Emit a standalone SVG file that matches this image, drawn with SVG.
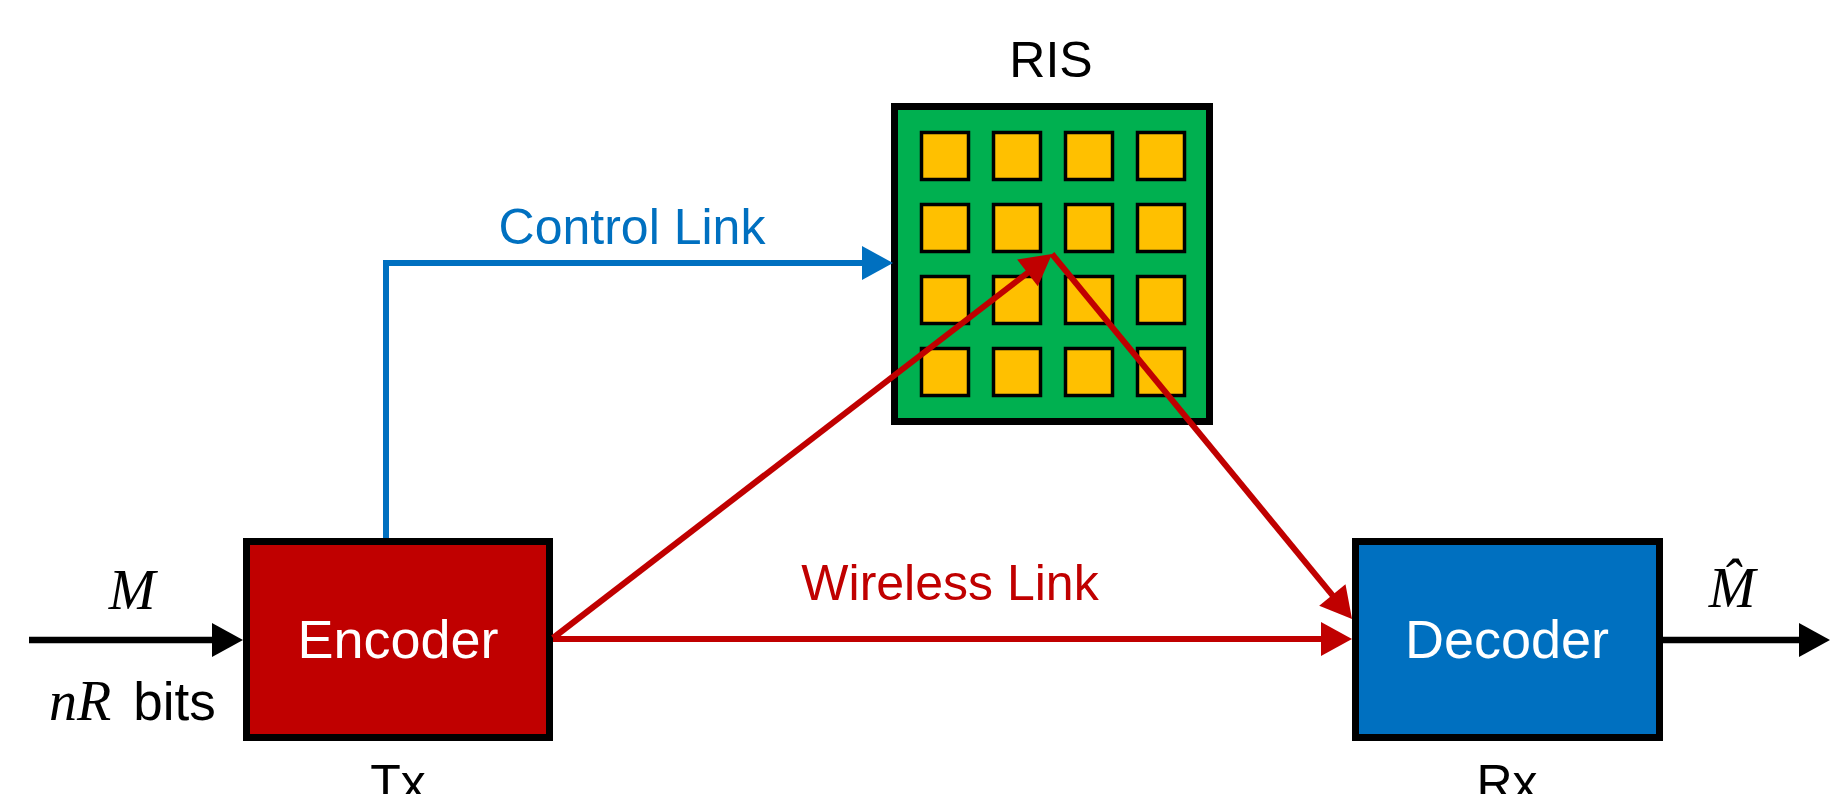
<svg xmlns="http://www.w3.org/2000/svg" width="1830" height="794" viewBox="0 0 1830 794">
<style>
.lbl{font-family:"Liberation Sans",Arial,sans-serif;font-size:50px;fill:#000}
.box{font-family:"Liberation Sans",Arial,sans-serif;font-size:54px;fill:#fff}
.math{font-family:"Liberation Serif","DejaVu Serif",serif;font-style:italic;font-size:56px;fill:#000}
.red{stroke:#C00000;stroke-width:6;fill:none}
.blue{stroke:#0070C0;stroke-width:6;fill:none}
.blk{stroke:#000;stroke-width:6.5;fill:none}
.cell{fill:#FFC000;stroke:#000;stroke-width:3.5}
</style>
<defs>
<marker id="ahR" markerUnits="userSpaceOnUse" markerWidth="31" markerHeight="34" refX="10" refY="17" orient="auto" overflow="visible"><path d="M0,0 L31,17 L0,34 z" fill="#C00000"/></marker>
<marker id="ahB" markerUnits="userSpaceOnUse" markerWidth="31" markerHeight="34" refX="10" refY="17" orient="auto" overflow="visible"><path d="M0,0 L31,17 L0,34 z" fill="#0070C0"/></marker>
<marker id="ahK" markerUnits="userSpaceOnUse" markerWidth="31" markerHeight="34" refX="10" refY="17" orient="auto" overflow="visible"><path d="M0,0 L31,17 L0,34 z" fill="#000"/></marker>
</defs>
<rect width="1830" height="794" fill="#fff"/>

<g id="ris">
<text class="lbl" x="1051" y="77" text-anchor="middle">RIS</text>
<rect x="894.5" y="106.5" width="315" height="315" fill="#00B050" stroke="#000" stroke-width="7"/>
<rect class="cell" x="921.5" y="132.5" width="47" height="47"/>
<rect class="cell" x="993.5" y="132.5" width="47" height="47"/>
<rect class="cell" x="1065.5" y="132.5" width="47" height="47"/>
<rect class="cell" x="1137.5" y="132.5" width="47" height="47"/>
<rect class="cell" x="921.5" y="204.5" width="47" height="47"/>
<rect class="cell" x="993.5" y="204.5" width="47" height="47"/>
<rect class="cell" x="1065.5" y="204.5" width="47" height="47"/>
<rect class="cell" x="1137.5" y="204.5" width="47" height="47"/>
<rect class="cell" x="921.5" y="276.5" width="47" height="47"/>
<rect class="cell" x="993.5" y="276.5" width="47" height="47"/>
<rect class="cell" x="1065.5" y="276.5" width="47" height="47"/>
<rect class="cell" x="1137.5" y="276.5" width="47" height="47"/>
<rect class="cell" x="921.5" y="348.5" width="47" height="47"/>
<rect class="cell" x="993.5" y="348.5" width="47" height="47"/>
<rect class="cell" x="1065.5" y="348.5" width="47" height="47"/>
<rect class="cell" x="1137.5" y="348.5" width="47" height="47"/>
</g>

<g id="encoder">
<rect x="246.5" y="541.5" width="303" height="196" fill="#C00000" stroke="#000" stroke-width="7"/>
<text class="box" x="398" y="658" text-anchor="middle">Encoder</text>
<text class="lbl" x="398" y="800" text-anchor="middle">Tx</text>
</g>

<g id="decoder">
<rect x="1355.5" y="541.5" width="304" height="196" fill="#0070C0" stroke="#000" stroke-width="7"/>
<text class="box" x="1507" y="658" text-anchor="middle">Decoder</text>
<text class="lbl" x="1507" y="800" text-anchor="middle">Rx</text>
</g>

<g id="connectors">
<path class="blk" d="M29,640 H222" marker-end="url(#ahK)"/>
<path class="blk" d="M1663,640 H1809" marker-end="url(#ahK)"/>
<path class="blue" d="M386,538 V263 H872" marker-end="url(#ahB)"/>
<path class="red" d="M553,639 H1331" marker-end="url(#ahR)"/>
<path class="red" d="M553,638 L1035.4,266.8" marker-end="url(#ahR)"/>
<path class="red" d="M1052,254 L1338.7,602.8" marker-end="url(#ahR)"/>
</g>

<g id="labels">
<text class="lbl" x="632" y="244" text-anchor="middle" style="fill:#0070C0">Control Link</text>
<text class="lbl" x="950" y="600" text-anchor="middle" style="fill:#C00000">Wireless Link</text>
<text class="math" x="132" y="609" text-anchor="middle">M</text>
<text x="49" y="720"><tspan class="math">nR</tspan><tspan class="lbl" style="font-size:53px" dx="22">bits</tspan></text>
<text class="math" x="1732" y="607" text-anchor="middle">M̂</text>
</g>
</svg>
